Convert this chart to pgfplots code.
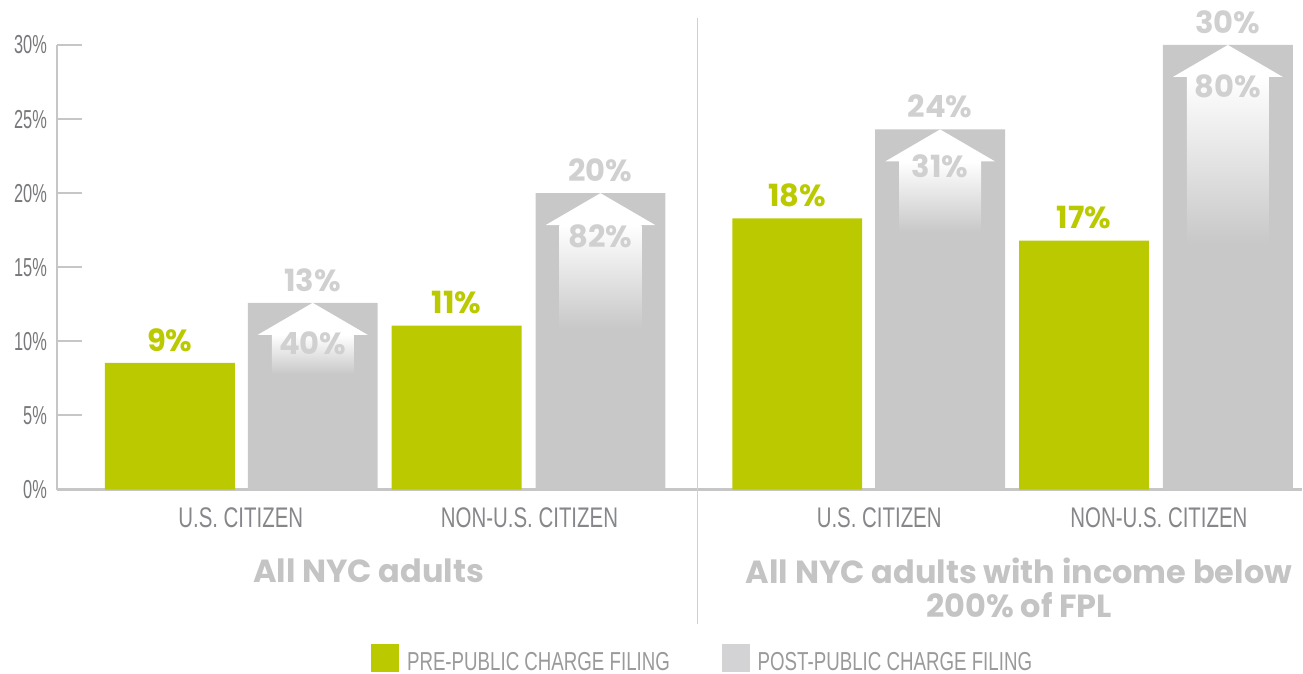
\documentclass[border=0pt]{standalone}
\usepackage{pgfplots}
\pgfplotsset{compat=1.18}
\usepackage{fontspec}
\setmainfont{Liberation Sans}
\newfontfamily\cond{Liberation Sans}[FakeStretch=0.72]
\newfontfamily\condt{Liberation Sans}[FakeStretch=0.63]
\newfontfamily\popb{Poppins Bold}
\definecolor{cgreen}{HTML}{BBCA00}
\definecolor{cbar}{HTML}{C8C8C8}
\definecolor{clab}{HTML}{D0D0D1}
\definecolor{ctick}{HTML}{77787B}
\definecolor{ccat}{HTML}{86878A}
\definecolor{cleg}{HTML}{9A9A9C}
\definecolor{ctitle}{HTML}{C4C4C5}
\definecolor{caxis}{HTML}{C6C6C6}
\definecolor{clegg}{HTML}{D3D3D5}
\newcommand{\uparr}[3]{% center x, bottom y, top y
  \shade[top color=white, middle color=white, bottom color=cbar] (axis cs:#1-41,#2) rectangle (axis cs:#1+41,#3-2.16);
  \fill[white] (axis cs:#1-55,#3-2.16) -- (axis cs:#1+55,#3-2.16) -- (axis cs:#1,#3) -- cycle;
}
\begin{document}
\begin{tikzpicture}
\begin{axis}[name=ax, scale only axis, width=623pt, height=222.5pt,
  xmin=57, xmax=1303, ymin=0, ymax=30, clip=false,
  axis x line=bottom, axis y line=left,
  axis line style={caxis, line width=1.2pt, -},
  xtick=\empty, ytick={0,5,10,15,20,25,30},
  yticklabels={0\%,5\%,10\%,15\%,20\%,25\%,30\%},
  yticklabel style={font=\condt\fontsize{13}{13}\selectfont, text=ctick, xshift=-1.5pt},
  tick align=inside, major tick length=12.5pt, tick style={caxis, line width=1pt},
  ybar, bar width=130, bar shift=0pt,
  nodes near coords, point meta=explicit symbolic,
  every node near coord/.append style={font=\popb\fontsize{15.3}{16}\selectfont, inner sep=0pt, yshift=5.5pt},
]
\addplot[fill=cgreen, draw=none, every node near coord/.append style={text=cgreen}]
  coordinates {(170,8.55) [9\%] (457,11.06) [11\%] (798,18.3) [18\%] (1085,16.8) [17\%]};
\addplot[fill=cbar, draw=none, every node near coord/.append style={text=clab}]
  coordinates {(313,12.6) [13\%] (601,20.0) [20\%] (941,24.3) [24\%] (1229,30.0) [30\%]};
\uparr{313}{7.8}{12.6}
\uparr{601}{10.9}{20.0}
\uparr{941}{17.4}{24.3}
\uparr{1229}{16.6}{30.0}
\begin{scope}[every node/.style={font=\popb\fontsize{15.3}{16}\selectfont, text=clab}]
\node at (axis cs:313,9.9) {40\%};
\node at (axis cs:601,17.1) {82\%};
\node at (axis cs:941,21.8) {31\%};
\node at (axis cs:1229,27.2) {80\%};
\end{scope}
\draw[color=caxis!80, line width=0.6pt] (axis cs:698,31.82) -- (axis cs:698,-9.1);
\begin{scope}[every node/.style={font=\cond\fontsize{14.2}{15}\selectfont, text=ccat}]
\node at (axis cs:241,-1.89) {U.S. CITIZEN};
\node at (axis cs:530,-1.89) {NON-U.S. CITIZEN};
\node at (axis cs:880,-1.89) {U.S. CITIZEN};
\node at (axis cs:1160,-1.89) {NON-U.S. CITIZEN};
\end{scope}
\begin{scope}[every node/.style={font=\popb\fontsize{16}{17}\selectfont, text=ctitle, align=center}]
\node at (axis cs:369,-5.46) {All NYC adults};
\node at (axis cs:1020,-5.46) {All NYC adults with income below};
\node at (axis cs:1020,-7.82) {200\% of FPL};
\end{scope}
\fill[cgreen] (axis cs:371,-10.45) rectangle (axis cs:399,-12.34);
\fill[clegg] (axis cs:723,-10.45) rectangle (axis cs:751,-12.34);
\begin{scope}[every node/.style={font=\cond\fontsize{13}{14}\selectfont, text=cleg, anchor=west, inner sep=0pt}]
\node at (axis cs:407,-11.6) {PRE-PUBLIC CHARGE FILING};
\node at (axis cs:758,-11.6) {POST-PUBLIC CHARGE FILING};
\end{scope}
\end{axis}
\path[use as bounding box] ([shift={(-28.5pt,-92pt)}]ax.south west) rectangle ([shift={(0pt,22.5pt)}]ax.north east);
\end{tikzpicture}
\end{document}
